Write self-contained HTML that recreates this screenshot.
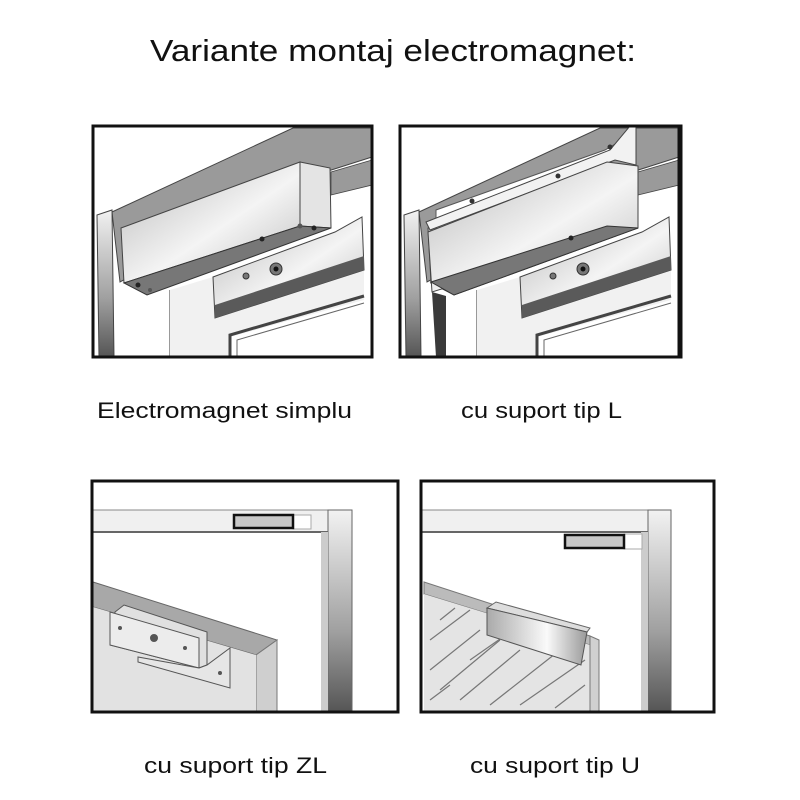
<!DOCTYPE html>
<html><head><meta charset="utf-8"><style>
html,body{margin:0;padding:0;background:#fff;}
svg{display:block;}
text{font-family:"Liberation Sans",Arial,sans-serif;fill:#111;}
</style></head><body>
<svg width="800" height="800" viewBox="0 0 800 800" xmlns="http://www.w3.org/2000/svg">
<defs>
<linearGradient id="silver" x1="0" y1="0" x2="1" y2="1">
<stop offset="0" stop-color="#b8b8b8"/><stop offset="0.55" stop-color="#f4f4f4"/><stop offset="1" stop-color="#bdbdbd"/></linearGradient>
<linearGradient id="post" x1="0" y1="0" x2="0" y2="1">
<stop offset="0" stop-color="#f2f2f2"/><stop offset="0.6" stop-color="#a0a0a0"/><stop offset="1" stop-color="#555"/></linearGradient>
<linearGradient id="uplate" x1="0" y1="0" x2="1" y2="0">
<stop offset="0" stop-color="#aaa"/><stop offset="0.6" stop-color="#fafafa"/><stop offset="1" stop-color="#999"/></linearGradient>
<g id="p1">
<rect x="93" y="126" width="279" height="231" fill="#fff"/>
<polygon points="112,212 293,128 372,128 372,157 325,172 120,282" fill="#9a9a9a" stroke="#444" stroke-width="1"/>
<polygon points="331,172 372,160 372,185 331,195" fill="#9a9a9a" stroke="#444" stroke-width="0.8"/>
<polygon points="97,215 112,210 114,357 99,357" fill="url(#post)" stroke="#444" stroke-width="1"/>
<line x1="170" y1="290" x2="170" y2="357" stroke="#555" stroke-width="1.2"/>
<polygon points="170,290 213,277 364,270 364,300 230,337 230,357 170,357" fill="#f1f1f1"/>
<polyline points="230,357 230,335 364,296" fill="none" stroke="#444" stroke-width="3"/>
<polyline points="237,357 237,340 364,303" fill="none" stroke="#666" stroke-width="1"/>
<polygon points="213,277 335,232 362,217 364,270 215,318" fill="url(#silver)" stroke="#444" stroke-width="1"/>
<polygon points="215,305 364,256 364,270 215,318" fill="#5a5a5a"/>
<circle cx="276" cy="269" r="6" fill="#777" stroke="#333"/><circle cx="276" cy="269" r="2.5" fill="#111"/>
<circle cx="246" cy="276" r="3" fill="#777" stroke="#333"/>
<polygon points="121,228 300,162 300,226 124,283" fill="url(#silver)" stroke="#444" stroke-width="1"/>
<polygon points="300,162 330,168 331,228 300,226" fill="#e4e4e4" stroke="#444" stroke-width="1"/>
<polygon points="124,283 300,226 331,228 147,295" fill="#777" stroke="#333" stroke-width="1"/>
<circle cx="262" cy="239" r="2.5" fill="#222"/><circle cx="300" cy="226" r="2.5" fill="#555"/><circle cx="314" cy="228" r="2.5" fill="#222"/>
<circle cx="138" cy="285" r="2.5" fill="#222"/><circle cx="150" cy="290" r="2" fill="#555"/>
<rect x="93" y="126" width="279" height="231" fill="none" stroke="#111" stroke-width="3"/>
</g>
</defs>

<text x="150" y="61" font-size="31" textLength="486" lengthAdjust="spacingAndGlyphs">Variante montaj electromagnet:</text>

<use href="#p1"/>
<g>
<use href="#p1" transform="translate(307,0)"/>
<polygon points="436,230 605,160 622,140 605,150 436,210" fill="#fff" stroke="#555" stroke-width="1"/>
<polygon points="426,222 610,150 630,126 636,126 636,165 615,160 430,230" fill="#f2f2f2" stroke="#444" stroke-width="1"/>
<polygon points="428,232 607,162 638,166 638,228 432,292" fill="url(#silver)" stroke="#444" stroke-width="1"/>
<polygon points="431,282 607,226 638,228 454,295" fill="#777" stroke="#333"/>
<circle cx="558" cy="176" r="2.5" fill="#333"/><circle cx="610" cy="147" r="2.5" fill="#333"/><circle cx="472" cy="201" r="2.5" fill="#333"/>
<circle cx="571" cy="238" r="2.5" fill="#222"/>
<polygon points="432,292 446,296 446,357 436,357" fill="#3a3a3a"/>
<rect x="400" y="126" width="281" height="231" fill="none" stroke="#111" stroke-width="3"/>
</g>

<text x="97" y="418" font-size="22" textLength="255" lengthAdjust="spacingAndGlyphs">Electromagnet simplu</text>
<text x="461" y="418" font-size="22" textLength="161" lengthAdjust="spacingAndGlyphs">cu suport tip L</text>

<!-- panel 3 -->
<g>
<rect x="92" y="481" width="306" height="231" fill="#fff"/>
<rect x="92" y="510" width="260" height="22" fill="#f0f0f0" stroke="#888" stroke-width="1"/>
<rect x="328" y="510" width="24" height="202" fill="url(#post)" stroke="#666" stroke-width="1"/>
<line x1="92" y1="532" x2="328" y2="532" stroke="#666" stroke-width="2"/>
<rect x="321" y="532" width="7" height="180" fill="#ccc"/>
<rect x="92" y="533" width="229" height="179" fill="#fff"/>
<rect x="293" y="515" width="18" height="14" fill="#fff" stroke="#aaa"/>
<rect x="234" y="515" width="59" height="13" fill="#c8c8c8" stroke="#111" stroke-width="2.5"/>
<polygon points="93,582 277,640 256,655 93,607" fill="#a8a8a8" stroke="#666"/>
<polygon points="256,655 277,640 277,712 256,712" fill="#cfcfcf" stroke="#777"/>
<polygon points="93,607 256,655 256,712 93,712" fill="#e2e2e2"/>
<polygon points="115,612 124,605 207,632 207,665 199,668 110,645" fill="#e0e0e0" stroke="#555"/>
<polygon points="110,612 199,638 199,668 110,645" fill="#ececec" stroke="#555"/>
<polygon points="199,668 207,665 230,648 230,688 138,662 138,657" fill="#e6e6e6" stroke="#555"/>
<circle cx="120" cy="628" r="2" fill="#555"/><circle cx="154" cy="638" r="4" fill="#555"/><circle cx="185" cy="648" r="2" fill="#555"/><circle cx="220" cy="673" r="2" fill="#555"/>
<rect x="92" y="481" width="306" height="231" fill="none" stroke="#111" stroke-width="3"/>
</g>

<!-- panel 4 -->
<g>
<rect x="421" y="481" width="293" height="231" fill="#fff"/>
<rect x="421" y="510" width="250" height="22" fill="#f0f0f0" stroke="#888"/>
<rect x="648" y="510" width="23" height="202" fill="url(#post)" stroke="#666"/>
<line x1="421" y1="532" x2="648" y2="532" stroke="#666" stroke-width="2"/>
<rect x="641" y="532" width="7" height="180" fill="#ccc"/>
<rect x="421" y="533" width="220" height="179" fill="#fff"/>
<rect x="624" y="534" width="18" height="15" fill="#fff" stroke="#aaa"/>
<rect x="565" y="535" width="59" height="13" fill="#c8c8c8" stroke="#111" stroke-width="2.5"/>
<polygon points="424,582 590,636 590,645 424,594" fill="#bbb" stroke="#777"/>
<polygon points="424,594 590,645 590,712 424,712" fill="#e4e4e4"/>
<polygon points="590,636 599,640 599,712 590,712" fill="#d0d0d0" stroke="#777"/>
<g stroke="#777" stroke-width="1.2">
<line x1="430" y1="640" x2="470" y2="610"/><line x1="430" y1="670" x2="480" y2="630"/>
<line x1="440" y1="690" x2="500" y2="640"/><line x1="460" y1="700" x2="520" y2="650"/>
<line x1="430" y1="700" x2="450" y2="685"/><line x1="490" y1="705" x2="560" y2="650"/>
<line x1="520" y1="705" x2="585" y2="660"/><line x1="555" y1="708" x2="585" y2="685"/>
<line x1="440" y1="620" x2="455" y2="608"/><line x1="470" y1="660" x2="520" y2="625"/>
</g>
<polygon points="487,608 496,602 590,628 587,632" fill="#ddd" stroke="#666"/>
<polygon points="487,608 587,632 581,665 487,635" fill="url(#uplate)" stroke="#555"/>
<rect x="421" y="481" width="293" height="231" fill="none" stroke="#111" stroke-width="3"/>
</g>

<text x="144" y="773" font-size="22" textLength="183" lengthAdjust="spacingAndGlyphs">cu suport tip ZL</text>
<text x="470" y="773" font-size="22" textLength="170" lengthAdjust="spacingAndGlyphs">cu suport tip U</text>
</svg>
</body></html>
